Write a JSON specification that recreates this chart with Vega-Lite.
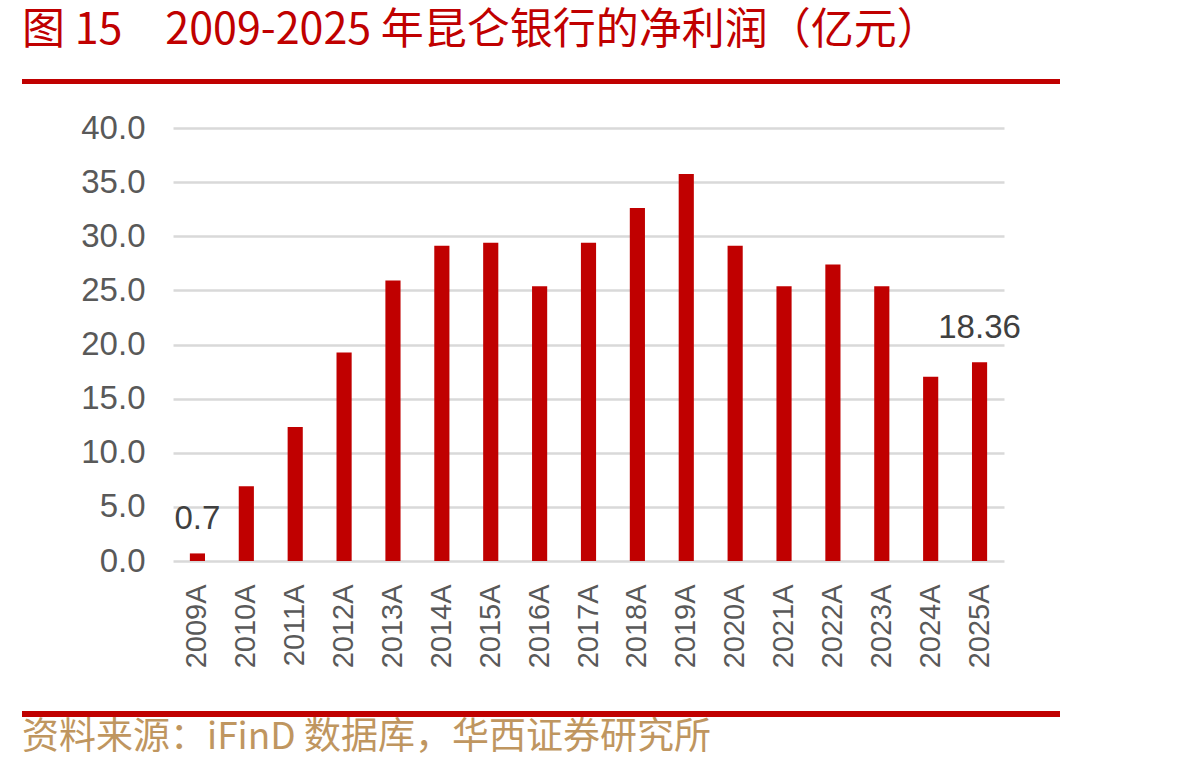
{
  "$schema": "https://vega.github.io/schema/vega-lite/v6.json",
  "padding": {"left": 22, "top": 10, "right": 20, "bottom": 15},
  "background": "white",
  "title": {
    "text": "图 15　2009-2025 年昆仑银行的净利润（亿元）",
    "anchor": "start",
    "font": "Noto Sans CJK SC",
    "fontSize": 43,
    "fontWeight": "normal",
    "color": "#C00000",
    "offset": 26
  },
  "spacing": 28,
  "config": {"view": {"stroke": null}},
  "vconcat": [
    {
      "width": 1038,
      "height": 5,
      "data": {"values": []},
      "mark": "point",
      "encoding": {},
      "view": {"fill": "#C00000", "stroke": null}
    },
    {
      "spacing": 0,
      "hconcat": [
        {
          "width": 1,
          "height": 1,
          "data": {"values": []},
          "mark": "point",
          "encoding": {}
        },
        {
          "width": 831,
          "height": 433,
          "data": {
            "values": [
              {"year": "2009A", "profit": 0.7, "label": "0.7"},
              {"year": "2010A", "profit": 6.9, "label": ""},
              {"year": "2011A", "profit": 12.38, "label": ""},
              {"year": "2012A", "profit": 19.27, "label": ""},
              {"year": "2013A", "profit": 25.92, "label": ""},
              {"year": "2014A", "profit": 29.13, "label": ""},
              {"year": "2015A", "profit": 29.4, "label": ""},
              {"year": "2016A", "profit": 25.37, "label": ""},
              {"year": "2017A", "profit": 29.4, "label": ""},
              {"year": "2018A", "profit": 32.61, "label": ""},
              {"year": "2019A", "profit": 35.75, "label": ""},
              {"year": "2020A", "profit": 29.13, "label": ""},
              {"year": "2021A", "profit": 25.37, "label": ""},
              {"year": "2022A", "profit": 27.4, "label": ""},
              {"year": "2023A", "profit": 25.37, "label": ""},
              {"year": "2024A", "profit": 17.03, "label": ""},
              {"year": "2025A", "profit": 18.36, "label": "18.36"}
            ]
          },
          "encoding": {
            "x": {
              "field": "year",
              "type": "nominal",
              "sort": null,
              "scale": {"paddingInner": 0.69, "paddingOuter": 0.345},
              "axis": {
                "title": null,
                "labelAngle": -90,
                "labelFont": "Liberation Sans",
                "labelFontSize": 29,
                "labelColor": "#595959",
                "labelPadding": 23,
                "ticks": false,
                "domain": false,
                "minExtent": 122
              }
            },
            "y": {
              "field": "profit",
              "type": "quantitative",
              "scale": {"domain": [0, 40], "nice": false},
              "axis": {
                "title": null,
                "values": [0, 5, 10, 15, 20, 25, 30, 35, 40],
                "format": ".1f",
                "labelFont": "Liberation Sans",
                "labelFontSize": 33,
                "labelColor": "#595959",
                "labelPadding": 28,
                "ticks": false,
                "domain": false,
                "grid": true,
                "gridColor": "#D9D9D9",
                "gridWidth": 2.5,
                "minExtent": 150
              }
            }
          },
          "layer": [
            {"mark": {"type": "bar", "color": "#C00000"}},
            {
              "transform": [{"filter": "datum.label != ''"}],
              "mark": {
                "type": "text",
                "font": "Liberation Sans",
                "fontSize": 33,
                "color": "#404040",
                "baseline": "alphabetic",
                "dy": -24
              },
              "encoding": {"text": {"field": "label"}}
            }
          ]
        }
      ]
    },
    {
      "width": 1038,
      "height": 6,
      "data": {"values": []},
      "mark": "point",
      "encoding": {},
      "view": {"fill": "#C00000", "stroke": null},
      "title": {
        "text": "资料来源：iFinD 数据库，华西证券研究所",
        "orient": "bottom",
        "anchor": "start",
        "font": "Noto Sans CJK SC",
        "fontSize": 37,
        "fontWeight": "normal",
        "color": "#BF9660",
        "offset": 3
      }
    }
  ]
}
